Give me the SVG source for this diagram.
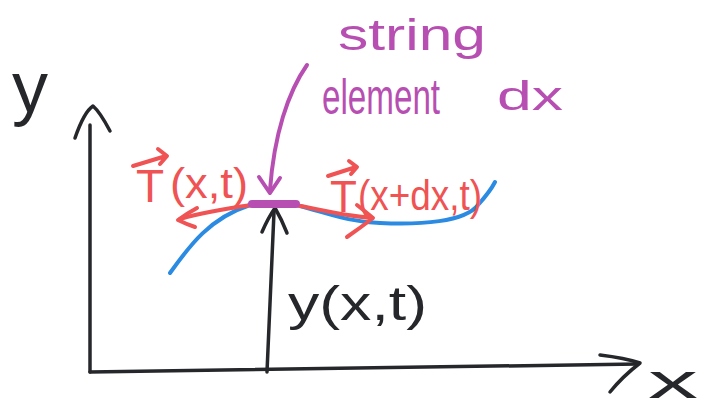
<svg xmlns="http://www.w3.org/2000/svg" width="703" height="412" viewBox="0 0 703 412">
<style>
.k{fill:none;stroke:#25272b;stroke-width:3.5;stroke-linecap:round;stroke-linejoin:round}
.r{fill:none;stroke:#ef5353;stroke-width:4;stroke-linecap:round;stroke-linejoin:round}
.p{fill:none;stroke:#b74fb2;stroke-width:4;stroke-linecap:round;stroke-linejoin:round}
.b{fill:none;stroke:#2b8ae2;stroke-width:4;stroke-linecap:round}
text{font-family:"Liberation Sans","DejaVu Sans",sans-serif}
.tk{fill:#25272b}
.tr{fill:#ef5353}
.tp{fill:#b74fb2}
</style>
<rect width="703" height="412" fill="#ffffff"/>
<g id="axes">
<path class="k" d="M90,372 L90,125"/>
<path class="k" d="M75,138 Q84,112 93,106 Q100,112 110,131"/>
<path class="k" d="M90,372 L638,364"/>
<path class="k" d="M600,355 Q625,358 640,363 Q622,377 610,392"/>
<text class="tk" x="12" y="112" font-size="72">y</text>
<text class="tk" x="648" y="398" font-size="48" textLength="50" lengthAdjust="spacingAndGlyphs">x</text>
</g>
<g id="curve">
<path class="b" d="M170,273 C190,245 210,218 250,205 C275,200 292,203 300,206 C330,214 350,222 380,223 C420,225 465,222 478,205 C486,196 492,188 495,182"/>
</g>
<g id="connectors">
<path class="k" d="M267,372 L274,212"/>
<path class="k" d="M262,232 Q268,218 275,208 Q282,220 287,233"/>
<path class="r" d="M252,205 C230,208 200,213 180,219"/>
<path class="r" d="M197,208 Q186,214 178,220 Q186,224 195,227"/>
<path class="r" d="M296,205 C320,210 345,216 372,218"/>
<path class="r" d="M357,205 Q366,212 373,218 Q360,228 347,237"/>
<path d="M252,204 L296,204" stroke="#b74fb2" stroke-width="8" stroke-linecap="round" fill="none"/>
<path class="p" d="M307,65 C288,92 274,135 270,190"/>
<path class="p" d="M259,177 Q265,186 270,193 Q276,184 280,178"/>
</g>
<g id="tension-left">
<path class="r" d="M133,166 L166,156 M158,149 L167,156 L160,164"/>
<text class="tr" x="136" y="202" font-size="46">T</text>
<text class="tr" x="170" y="198" font-size="42" textLength="78" lengthAdjust="spacingAndGlyphs">(x,t)</text>
</g>
<g id="tension-right">
<path class="r" d="M328,176 L356,167 M349,161 L357,167 L351,174"/>
<text class="tr" x="330" y="212" font-size="44">T</text>
<text class="tr" x="358" y="210" font-size="42" textLength="124" lengthAdjust="spacingAndGlyphs">(x+dx,t)</text>
</g>
<g id="string-label">
<text class="tp" x="338" y="50" font-size="44" textLength="148" lengthAdjust="spacingAndGlyphs">string</text>
<text class="tp" transform="translate(322,114) scale(0.83,1.25)" x="0" y="0" font-size="40">element</text>
<text class="tp" x="497" y="110" font-size="40" textLength="66" lengthAdjust="spacingAndGlyphs">dx</text>
</g>
<g id="displacement-label">
<text class="tk" x="288" y="320" font-size="48" textLength="139" lengthAdjust="spacingAndGlyphs">y(x,t)</text>
</g>
</svg>
